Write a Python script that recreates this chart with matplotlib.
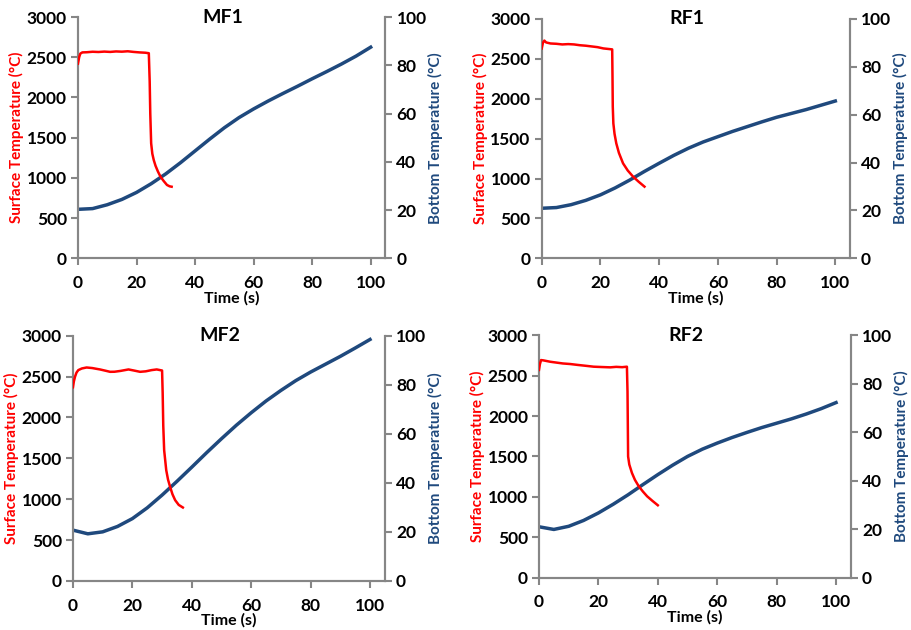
import matplotlib
matplotlib.use("Agg")
import matplotlib.pyplot as plt

plt.rcParams['font.family'] = ['Lato', 'DejaVu Sans']
plt.rcParams['font.weight'] = 'bold'

RED = '#FF0000'
BLUE = '#1F497D'
GRAY = '#868686'

# ---- surface temperature (left axis, degC) ----
mf1_surf_t = [0, 0.4, 0.8, 1.5, 3, 5, 7, 9, 11, 13, 15, 17, 19, 21, 23, 24.2,
              24.5, 24.7, 25.0, 25.4, 25.9, 26.5, 27.3, 28.2, 29.3, 30.4, 31.3, 32.0]
mf1_surf_v = [2420, 2500, 2545, 2560, 2562, 2568, 2565, 2570, 2566, 2572, 2569, 2574, 2566, 2560, 2556, 2550,
              2200, 1800, 1430, 1300, 1220, 1150, 1080, 1014, 960, 912, 895, 890]

rf1_surf_t = [0, 0.4, 0.9, 1.5, 3, 5, 7, 9, 11, 13, 15, 17, 19, 21, 23, 24.0,
              24.1, 24.2, 24.4, 24.8, 25.4, 26.3, 27.7, 29.3, 31.1, 33.0, 35.0]
rf1_surf_v = [2630, 2700, 2728, 2705, 2692, 2688, 2680, 2684, 2680, 2670, 2664, 2655, 2646, 2630, 2622, 2618,
              2300, 1900, 1690, 1560, 1440, 1320, 1190, 1100, 1024, 960, 898]

mf2_surf_t = [0, 0.3, 0.7, 1.2, 1.8, 3, 4.6, 6.5, 8, 9.1, 11, 12.5, 14, 16, 18.7, 20.5, 22.6, 24.5, 26.5, 28.2, 30.0,
              30.2, 30.4, 30.7, 31.4, 32.0, 32.7, 33.5, 34.4, 35.6, 37.0]
mf2_surf_v = [2370, 2440, 2500, 2550, 2580, 2600, 2612, 2605, 2595, 2588, 2572, 2559, 2560, 2570, 2588, 2575, 2559, 2565, 2580, 2588, 2575,
              2300, 1900, 1600, 1355, 1240, 1151, 1060, 988, 930, 898]

rf2_surf_t = [0, 0.3, 0.7, 1.5, 3.8, 6, 8, 10.5, 13, 16, 18.4, 21, 24, 26, 28, 29.6,
              29.8, 29.9, 30.0, 30.4, 31.3, 32.3, 33.6, 35.0, 36.4, 38.2, 40.0]
rf2_surf_v = [2570, 2640, 2692, 2688, 2671, 2660, 2650, 2643, 2632, 2620, 2610, 2606, 2602, 2608, 2604, 2610,
              2300, 1900, 1500, 1400, 1295, 1210, 1130, 1065, 1007, 950, 896]

# ---- bottom temperature (right axis, degC) ----
bottom_t = [0, 5, 10, 15, 20, 25, 30, 35, 40, 45, 50, 55, 60, 65, 70, 75, 80, 85, 90, 95, 100]
mf1_bot_v = [20.3, 20.6, 22.2, 24.4, 27.3, 30.9, 35.0, 39.6, 44.5, 49.4, 54.1, 58.3, 61.9, 65.2, 68.3, 71.3, 74.4, 77.4, 80.5, 83.8, 87.5]
rf1_bot_v = [20.9, 21.2, 22.4, 24.2, 26.5, 29.4, 32.7, 36.3, 39.7, 43.0, 46.0, 48.6, 50.8, 53.0, 55.0, 57.0, 58.9, 60.5, 62.1, 63.9, 65.7]
mf2_bot_v = [20.7, 19.2, 20.0, 22.2, 25.4, 29.8, 35.0, 40.6, 46.4, 52.3, 58.0, 63.5, 68.6, 73.4, 77.7, 81.7, 85.2, 88.4, 91.6, 95.0, 98.5]
rf2_bot_v = [21.0, 19.9, 21.2, 23.6, 26.7, 30.3, 34.2, 38.4, 42.5, 46.4, 50.0, 53.0, 55.5, 57.8, 59.9, 61.9, 63.7, 65.5, 67.5, 69.7, 72.2]

panels = [
    ('MF1', mf1_surf_t, mf1_surf_v, mf1_bot_v, [0.0855, 0.590, 0.337, 0.383]),
    ('RF1', rf1_surf_t, rf1_surf_v, rf1_bot_v, [0.594, 0.590, 0.338, 0.380]),
    ('MF2', mf2_surf_t, mf2_surf_v, mf2_bot_v, [0.080, 0.078, 0.342, 0.389]),
    ('RF2', rf2_surf_t, rf2_surf_v, rf2_bot_v, [0.591, 0.083, 0.342, 0.385]),
]

fig = plt.figure(figsize=(9.12, 6.3), dpi=100)

for title, st, sv, bv, rect in panels:
    ax = fig.add_axes(rect)
    ax2 = ax.twinx()

    ax.plot(st, sv, color=RED, lw=1.8, zorder=3)
    ax2.plot(bottom_t, bv, color=BLUE, lw=2.5)

    ax.set_xlim(0, 105)
    ax.set_ylim(0, 3000)
    ax2.set_ylim(0, 100)
    ax.set_xticks(range(0, 101, 20))
    ax.set_yticks(range(0, 3001, 500))
    ax2.set_yticks(range(0, 101, 20))

    ax.set_zorder(ax2.get_zorder() + 1)
    ax.patch.set_visible(False)

    for a in (ax, ax2):
        a.spines['top'].set_visible(False)
        for s in ('left', 'right', 'bottom'):
            a.spines[s].set_color(GRAY)
            a.spines[s].set_linewidth(1.5)
        a.tick_params(direction='out', length=5, width=1.5, color=GRAY,
                      labelsize=12.5, labelcolor='black', pad=3)
    ax.tick_params(axis='x', pad=7)
    for lab in ax.get_xticklabels() + ax.get_yticklabels() + ax2.get_yticklabels():
        lab.set_fontweight('bold')

    ax.text(0.47, 1.0, title, transform=ax.transAxes, ha='center', va='center',
            fontsize=14, fontweight='bold')
    ax.set_xlabel('Time (s)', fontsize=11.5, fontweight='bold', labelpad=0)
    ax.set_ylabel('Surface Temperature (°C)', fontsize=11, fontweight='bold', color=RED, labelpad=2)
    ax2.set_ylabel('Bottom Temperature (°C)', fontsize=11, fontweight='bold', color=BLUE, labelpad=1)

fig.savefig('out.png', dpi=100)
